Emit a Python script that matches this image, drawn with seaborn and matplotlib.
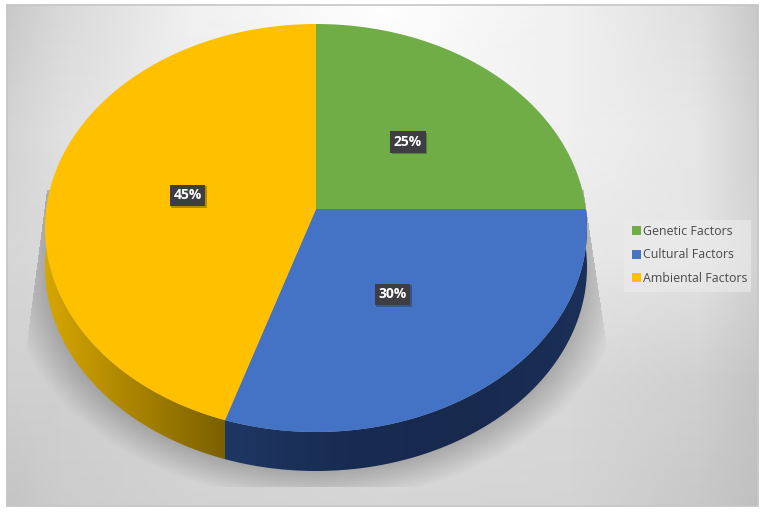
import matplotlib
matplotlib.use("Agg")
import matplotlib.pyplot as plt
import numpy as np
import seaborn as sns
import matplotlib.patheffects as pe
from matplotlib.colors import LinearSegmentedColormap
from matplotlib.patches import Patch, Polygon, Rectangle


# clockwise from 12 o'clock
categories = ["Genetic Factors", "Cultural Factors", "Ambiental Factors"]
shares = [25, 30, 45]

colors = ["#70ad47", "#4472c4", "#ffc000"]
wall_colors = {
    1: ["#1e3763", "#182b52", "#17294d", "#1b3058"],
    2: ["#d6a600", "#a98300", "#7a6000"],
}

# plot area background, grey levels
BG_X = [7, 60, 190, 382, 570, 700, 758]
BG_Y = [5, 130, 255, 380, 506]
BG_GREY = [
    [200, 216, 240, 255, 240, 222, 200],
    [212, 224, 238, 245, 240, 230, 208],
    [214, 218, 228, 235, 232, 228, 212],
    [208, 208, 214, 220, 216, 208, 196],
    [196, 204, 210, 214, 212, 200, 192],
]

APEX = (316, 209)
CENTER = (316, 228)
RX, RY = 271, 204
DEPTH = 39


def rim_point(alpha):
    # ray from the apex to the top ellipse, angle clockwise from the top
    k = 1.0 if np.cos(alpha) > 0 else 0.754
    dx, dy = np.sin(alpha), -np.cos(alpha) * k
    ox, oy = APEX[0] - CENTER[0], APEX[1] - CENTER[1]
    a = (dx / RX) ** 2 + (dy / RY) ** 2
    b = 2 * (ox * dx / RX**2 + oy * dy / RY**2)
    c = (ox / RX) ** 2 + (oy / RY) ** 2 - 1
    t = (-b + np.sqrt(b * b - 4 * a * c)) / (2 * a)
    return APEX[0] + t * dx, APEX[1] + t * dy


def main() -> None:
    sns.set_theme(style="white")
    palette = sns.color_palette(colors)

    fig = plt.figure(figsize=(7.65, 5.12), dpi=100)
    ax = fig.add_axes([0, 0, 1, 1])
    ax.axis("off")

    ax.pcolormesh(BG_X, BG_Y, np.array(BG_GREY), shading="gouraud", cmap="gray", vmin=0, vmax=255, zorder=0)
    ax.add_patch(Rectangle((7, 5), 751, 501, fill=False, edgecolor="#c6c6c6", linewidth=1.2, zorder=1))

    # soft shadow under the pie
    yy, xx = np.mgrid[0:512, 0:765] + 0.5
    ydist = np.where(yy > CENTER[1] + DEPTH, yy - CENTER[1] - DEPTH, np.where(yy < CENTER[1], yy - CENTER[1], 0))
    r = np.sqrt(((xx - CENTER[0]) / RX) ** 2 + (ydist / RY) ** 2)
    fade = np.clip(1 - (r - 1) / 0.15, 0, 1)
    mask = (yy > 190) & (yy < 487)
    mask &= xx > 47 - (yy - 190) * 19 / 145
    mask &= xx < 585 + (yy - 200) * 21 / 140
    shadow = np.zeros((512, 765, 4))
    shadow[..., 3] = 0.22 * fade * mask
    ax.imshow(shadow, extent=(0, 765, 512, 0), aspect="auto", zorder=2, interpolation="bilinear")

    edges = 2 * np.pi * np.cumsum([0] + shares) / sum(shares)

    # side walls of the slices that face the viewer
    for i in wall_colors:
        start, end = max(edges[i], np.pi / 2), min(edges[i + 1], 3 * np.pi / 2)
        arc = np.array([rim_point(a) for a in np.linspace(start, end, 200)])
        low = arc + [0, DEPTH]
        wall = Polygon(np.vstack([arc, low[::-1]]), closed=True, transform=ax.transData)
        x0, x1 = arc[:, 0].min(), arc[:, 0].max()
        cmap = LinearSegmentedColormap.from_list(f"wall{i}", wall_colors[i])
        grad = ax.imshow(
            np.linspace(0, 1, 256).reshape(1, -1),
            extent=(x0, x1, 512, 0),
            aspect="auto",
            cmap=cmap,
            zorder=3,
        )
        grad.set_clip_path(wall)

    # top face
    for i, colour in enumerate(palette):
        arc = [rim_point(a) for a in np.linspace(edges[i], edges[i + 1], 200)]
        ax.fill(*zip(APEX, *arc), color=colour, linewidth=0, zorder=4)

    # value labels
    for i, value in enumerate(shares):
        mid = (edges[i] + edges[i + 1]) / 2
        up = np.cos(mid) > 0
        lx = APEX[0] + 0.485 * 268 * np.sin(mid)
        ly = APEX[1] - 0.485 * (200 if up else 214) * np.cos(mid)
        t = ax.text(
            lx, ly, f"{value}%",
            ha="center", va="center_baseline", color="white", fontsize=10, fontweight="bold",
            family="Open Sans", zorder=6,
            bbox=dict(facecolor="#3e3e42", edgecolor="none", boxstyle="square,pad=0.27"),
        )
        t.get_bbox_patch().set_path_effects(
            [pe.SimplePatchShadow(offset=(1.2, -1.2), alpha=0.3), pe.Normal()]
        )

    ax.add_patch(Rectangle((624, 220), 127, 72, facecolor="#ececec", alpha=0.6, edgecolor="none", zorder=5))
    handles = [Patch(facecolor=c, edgecolor="none", label=n) for c, n in zip(palette, categories)]
    legend = ax.legend(
        handles=handles,
        loc="center",
        bbox_to_anchor=(689.5, 255),
        bbox_transform=ax.transData,
        frameon=False,
        handlelength=0.72,
        handleheight=0.72,
        handletextpad=0.2,
        labelspacing=0.85,
        borderpad=0,
        borderaxespad=0,
        prop={"family": "Open Sans", "size": 8.9},
    )
    for text in legend.get_texts():
        text.set_color("#4a4a4a")
    legend.set_zorder(6)

    ax.set_xlim(0, 765)
    ax.set_ylim(512, 0)
    fig.savefig("out.png", dpi=100)
    plt.close(fig)


if __name__ == "__main__":
    main()
